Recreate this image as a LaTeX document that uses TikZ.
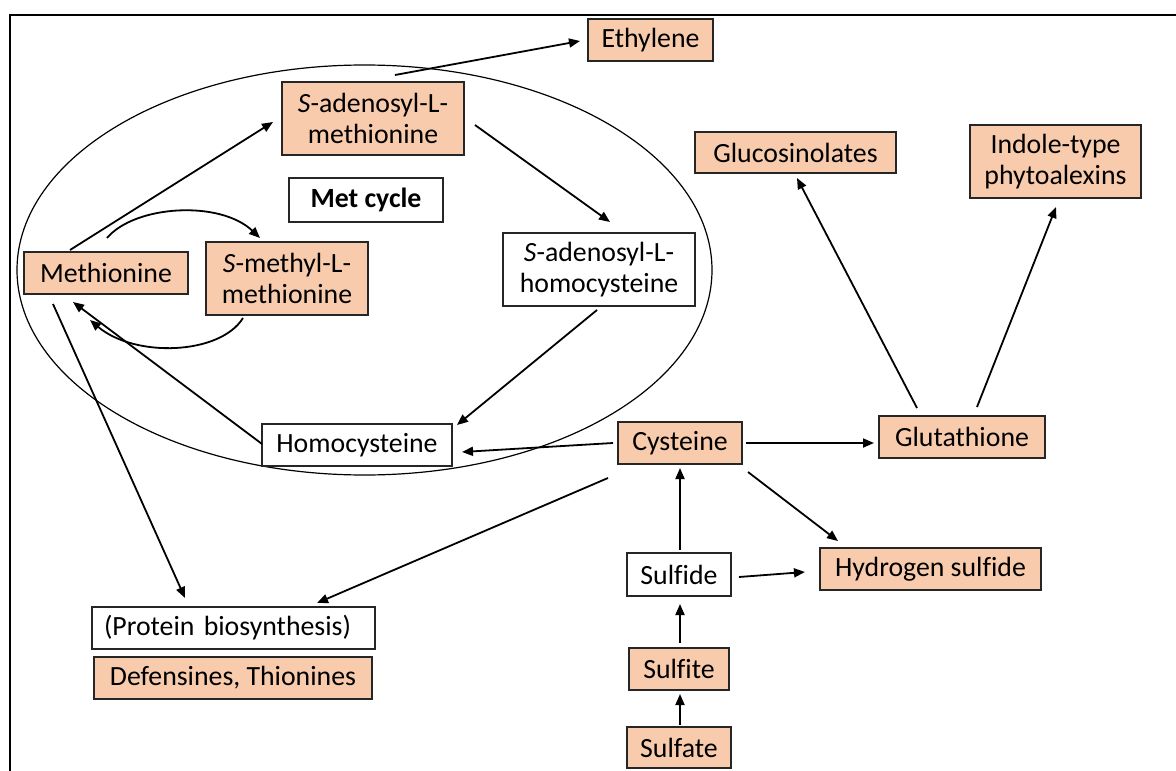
\documentclass[tikz,border=0pt]{standalone}
\usepackage{fontspec}
\setmainfont[Ligatures=NoCommon]{Carlito}
\usetikzlibrary{arrows.meta,calc}
\definecolor{peach}{HTML}{F8CBAD}
\definecolor{edge}{HTML}{262626}
\tikzset{
  box/.style={draw=edge,line width=1.5pt,inner sep=0pt,align=center,
    font=\fontsize{27.8}{31}\selectfont,text=black},
  pbox/.style={box,fill=peach},
  wbox/.style={box,fill=white},
  arr/.style={line width=1.8pt,-{Triangle[length=11pt,width=9pt]}},
}
\begin{document}
\begin{tikzpicture}[x=1pt,y=-1pt]
\useasboundingbox (0,0) rectangle (1176,771);
% frame
\draw[line width=2pt] (1176,15) -- (10,15) -- (10,771);
% ellipse
\draw[line width=1.2pt] (364.5,270) ellipse [x radius=347.5,y radius=205];
% nodes
\node[pbox,minimum width=125pt,minimum height=42pt] (eth) at (650.5,40) {Ethylene};
\node[pbox,minimum width=182pt,minimum height=73pt] (sam) at (373,118.5) {\textit{S}-adenosyl-L-\\methionine};
\node[wbox,minimum width=154pt,minimum height=44pt] (mc) at (366,200) {\textbf{Met cycle}};
\node[pbox,minimum width=164pt,minimum height=42pt] (met) at (106,273) {Methionine};
\node[pbox,minimum width=162pt,minimum height=73pt] (smm) at (287,278.5) {\textit{S}-methyl-L-\\methionine};
\node[wbox,minimum width=192pt,minimum height=73pt] (sah) at (599,269.5) {\textit{S}-adenosyl-L-\\homocysteine};
\node[wbox,minimum width=190pt,minimum height=42pt] (hcy) at (357,445) {Homocysteine};
\node[pbox,minimum width=124pt,minimum height=42pt] (cys) at (680,443) {Cysteine};
\node[pbox,minimum width=201pt,minimum height=41pt] (glu) at (795.5,152.5) {Glucosinolates};
\node[pbox,minimum width=171pt,minimum height=73pt] (ind) at (1055.5,161.5) {Indole-type\\phytoalexins};
\node[pbox,minimum width=166pt,minimum height=42pt] (gsh) at (962,437) {Glutathione};
\node[pbox,minimum width=221pt,minimum height=42pt] (h2s) at (930.5,569) {Hydrogen sulfide};
\node[wbox,minimum width=104pt,minimum height=43pt] (sfd) at (679,574.5) {Sulfide};
\node[pbox,minimum width=100pt,minimum height=42pt] (sft) at (679,669) {Sulfite};
\node[pbox,minimum width=104pt,minimum height=41pt] (sfa) at (679,747.5) {Sulfate};
\node[wbox,minimum width=283pt,minimum height=42pt,text width=259pt,align=left] (prot) at (233.5,628) {(Protein biosynthesis)};
\node[pbox,minimum width=278pt,minimum height=42pt] (def) at (233,678) {Defensines, Thionines};
% connectors
\draw[arr] ($(met)+(-36,-23)$) -- ($(sam)+(-100,3.5)$);
\draw[arr] ($(sam)+(22,-43.5)$) -- ($(eth)+(-70.5,1)$);
\draw[arr] ($(sam)+(102,6.5)$) -- ($(sah)+(11,-47.5)$);
\draw[arr] ($(sah)+(-2,40.5)$) -- ($(hcy)+(100,-20)$);
\draw[arr] ($(hcy)+(-95,-1)$) -- ($(met)+(-33,29)$);
\draw[arr] ($(smm)+(-44,39.5)$) .. controls (220,355) and (135,358) .. ($(met)+(-16,47)$);
\draw[arr] ($(met)+(1,-35)$) .. controls (135,205) and (220,200) .. ($(smm)+(-27,-40.5)$);
\draw[arr] ($(met)+(-53,31)$) -- ($(prot)+(-48.5,-30)$);
\draw[arr] ($(cys)+(-72,35)$) -- ($(prot)+(83.5,-25)$);
\draw[arr] ($(cys)+(-67,0)$) -- ($(hcy)+(105,7)$);
\draw[arr] ($(cys)+(66,0)$) -- ($(gsh)+(-88,6)$);
\draw[arr] ($(cys)+(68,29)$) -- ($(h2s)+(-92.5,-28)$);
\draw[arr] ($(sfd)+(1,-24.5)$) -- ($(cys)+(0,25)$);
\draw[arr] ($(sfd)+(60,2.5)$) -- ($(h2s)+(-125.5,3)$);
\draw[arr] ($(sft)+(1,-26)$) -- ($(sfd)+(1,29.5)$);
\draw[arr] ($(sfa)+(1,-22.5)$) -- ($(sft)+(1,25)$);
\draw[arr] ($(gsh)+(-45,-29)$) -- ($(glu)+(1.5,25.5)$);
\draw[arr] ($(gsh)+(15,-30)$) -- ($(ind)+(0.5,45.5)$);
\end{tikzpicture}
\end{document}
